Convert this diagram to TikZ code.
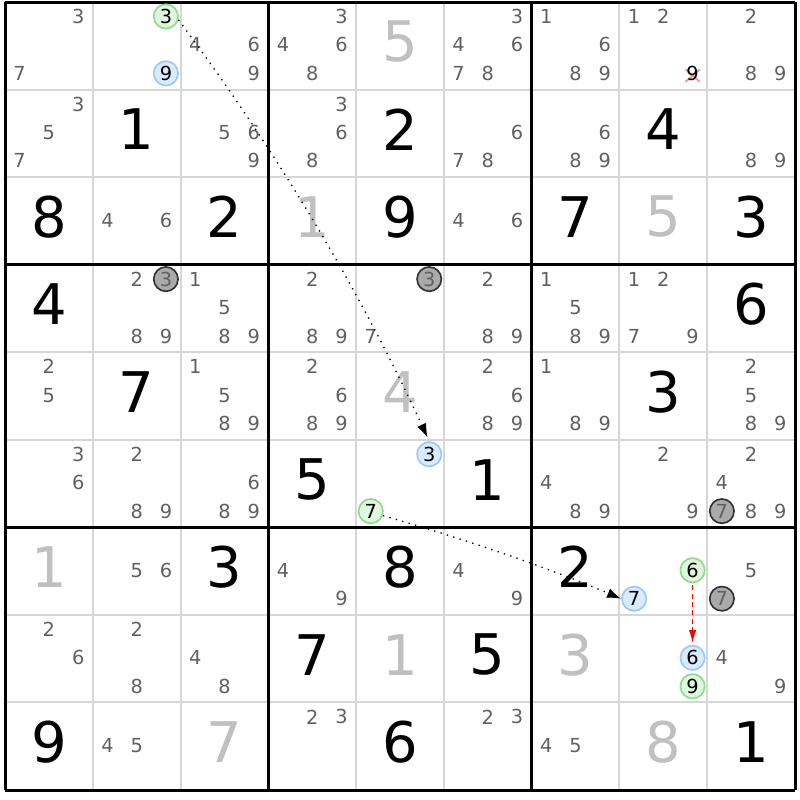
\documentclass[tikz,border=0pt]{standalone}
\usepackage{fontspec}
\setmainfont{DejaVu Sans}
\usetikzlibrary{arrows.meta}

\definecolor{candgray}{HTML}{606060}
\definecolor{solvedgray}{HTML}{C0C0C0}
\definecolor{gridgray}{HTML}{D6D6D6}
\definecolor{onring}{HTML}{8CDC8C}
\definecolor{onfill}{HTML}{DFF7DF}
\definecolor{offring}{HTML}{9CC8F6}
\definecolor{offfill}{HTML}{D9ECFF}
\definecolor{elimfill}{HTML}{AAAAAA}
\definecolor{xpink}{HTML}{F29A9A}

\tikzset{
  cand/.style={text=candgray, font=\fontsize{5.8}{6}\selectfont, inner sep=0pt},
  given/.style={font=\fontsize{16.8}{17}\selectfont, inner sep=0pt},
  solved/.style={given, text=solvedgray},
  ring/.style={circle, line width=0.5pt, minimum size=7.3pt, inner sep=0pt, font=\fontsize{5.8}{6}\selectfont},
  oncand/.style={ring, draw=onring, fill=onfill},
  offcand/.style={ring, draw=offring, fill=offfill},
  elimcand/.style={ring, draw=black!80, fill=elimfill, text=candgray},
  xmark/.style={xpink, line width=0.6pt},
  link/.style={line width=0.4pt, dash pattern=on 0.4pt off 1.6pt, -{Latex[length=4.2pt,width=3pt]}},
  weaklink/.style={red, line width=0.45pt, dash pattern=on 1.5pt off 1pt, -{Latex[length=3.9pt,width=2.2pt]}}
}

\newcommand{\cands}[3]{%
  \foreach \k in {#3}
    \node [cand] (r#1c#2n\k) at ({#2-1+(2*mod(\k-1,3)+1)/6},{#1-0.835+0.325*int((\k-1)/3)}) {\k};%
}
\newcommand{\digitat}[4]{\node [#4] (r#1c#2) at (#2-0.5,#1-0.545) {#3};}

\begin{document}
\begin{tikzpicture}[x=26.334pt, y=-26.268pt]
\fill [white] (-0.057,-0.0228) rectangle (9.057,9.114);
\useasboundingbox (-0.057,-0.0228) rectangle (9.057,9.114);
\foreach \i in {1,2,4,5,7,8} {
  \draw [gridgray, line width=0.6pt] (\i,0) -- (\i,9);
  \draw [gridgray, line width=0.6pt] (0,\i) -- (9,\i);
}
\foreach \i in {0,3,6,9} {
  \draw [line width=0.9pt] (\i,0) -- (\i,9);
  \draw [line width=0.9pt] (0,\i) -- (9,\i);
}

\digitat{1}{5}{5}{solved}
\digitat{2}{2}{1}{given}
\digitat{2}{5}{2}{given}
\digitat{2}{8}{4}{given}
\digitat{3}{1}{8}{given}
\digitat{3}{3}{2}{given}
\digitat{3}{4}{1}{solved}
\digitat{3}{5}{9}{given}
\digitat{3}{7}{7}{given}
\digitat{3}{8}{5}{solved}
\digitat{3}{9}{3}{given}
\digitat{4}{1}{4}{given}
\digitat{4}{9}{6}{given}
\digitat{5}{2}{7}{given}
\digitat{5}{5}{4}{solved}
\digitat{5}{8}{3}{given}
\digitat{6}{4}{5}{given}
\digitat{6}{6}{1}{given}
\digitat{7}{1}{1}{solved}
\digitat{7}{3}{3}{given}
\digitat{7}{5}{8}{given}
\digitat{7}{7}{2}{given}
\digitat{8}{4}{7}{given}
\digitat{8}{5}{1}{solved}
\digitat{8}{6}{5}{given}
\digitat{8}{7}{3}{solved}
\digitat{9}{1}{9}{given}
\digitat{9}{3}{7}{solved}
\digitat{9}{5}{6}{given}
\digitat{9}{8}{8}{solved}
\digitat{9}{9}{1}{given}

\cands{1}{1}{3,7}
\cands{1}{3}{4,6,9}
\cands{1}{4}{3,4,6,8}
\cands{1}{6}{3,4,6,7,8}
\cands{1}{7}{1,6,8,9}
\cands{1}{8}{1,2}
\cands{1}{9}{2,8,9}
\cands{2}{1}{3,5,7}
\cands{2}{3}{5,6,9}
\cands{2}{4}{3,6,8}
\cands{2}{6}{6,7,8}
\cands{2}{7}{6,8,9}
\cands{2}{9}{8,9}
\cands{3}{2}{4,6}
\cands{3}{6}{4,6}
\cands{4}{2}{2,8,9}
\cands{4}{3}{1,5,8,9}
\cands{4}{4}{2,8,9}
\cands{4}{5}{7}
\cands{4}{6}{2,8,9}
\cands{4}{7}{1,5,8,9}
\cands{4}{8}{1,2,7,9}
\cands{5}{1}{2,5}
\cands{5}{3}{1,5,8,9}
\cands{5}{4}{2,6,8,9}
\cands{5}{6}{2,6,8,9}
\cands{5}{7}{1,8,9}
\cands{5}{9}{2,5,8,9}
\cands{6}{1}{3,6}
\cands{6}{2}{2,8,9}
\cands{6}{3}{6,8,9}
\cands{6}{7}{4,8,9}
\cands{6}{8}{2,9}
\cands{6}{9}{2,4,8,9}
\cands{7}{2}{5,6}
\cands{7}{4}{4,9}
\cands{7}{6}{4,9}
\cands{7}{9}{5}
\cands{8}{1}{2,6}
\cands{8}{2}{2,8}
\cands{8}{3}{4,8}
\cands{8}{9}{4,9}
\cands{9}{2}{4,5}
\cands{9}{4}{2,3}
\cands{9}{6}{2,3}
\cands{9}{7}{4,5}

\draw [xmark] (7.754,0.77) -- (7.914,0.91);
\draw [xmark] (7.754,0.91) -- (7.914,0.77);
\node [cand, text=black] (r1c8n9) at (7.833,0.815) {9};

\node [oncand] (r1c2n3) at (1.833,0.165) {3};
\node [offcand] (r1c2n9) at (1.833,0.815) {9};
\node [elimcand] (r4c2n3) at (1.833,3.165) {3};
\node [elimcand] (r4c5n3) at (4.833,3.165) {3};
\node [offcand] (r6c5n3) at (4.833,5.165) {3};
\node [oncand] (r6c5n7) at (4.167,5.815) {7};
\node [elimcand] (r6c9n7) at (8.167,5.815) {7};
\node [oncand] (r7c8n6) at (7.833,6.49) {6};
\node [offcand] (r7c8n7) at (7.167,6.815) {7};
\node [elimcand] (r7c9n7) at (8.167,6.815) {7};
\node [offcand] (r8c8n6) at (7.833,7.49) {6};
\node [oncand] (r8c8n9) at (7.833,7.815) {9};

\draw [link, shorten >=1.2pt] (r1c2n3.-15) .. controls (3.093,1.702) and (4.043,3.296) .. (r6c5n3.north);
\draw [link] (r6c5n7.-20) .. controls (5.222,6.131) and (6.133,6.439) .. (r7c8n7.west);
\draw [weaklink, shorten <=0.6pt, shorten >=0.5pt] (r7c8n6.south) -- (r8c8n6.north);
\end{tikzpicture}
\end{document}
